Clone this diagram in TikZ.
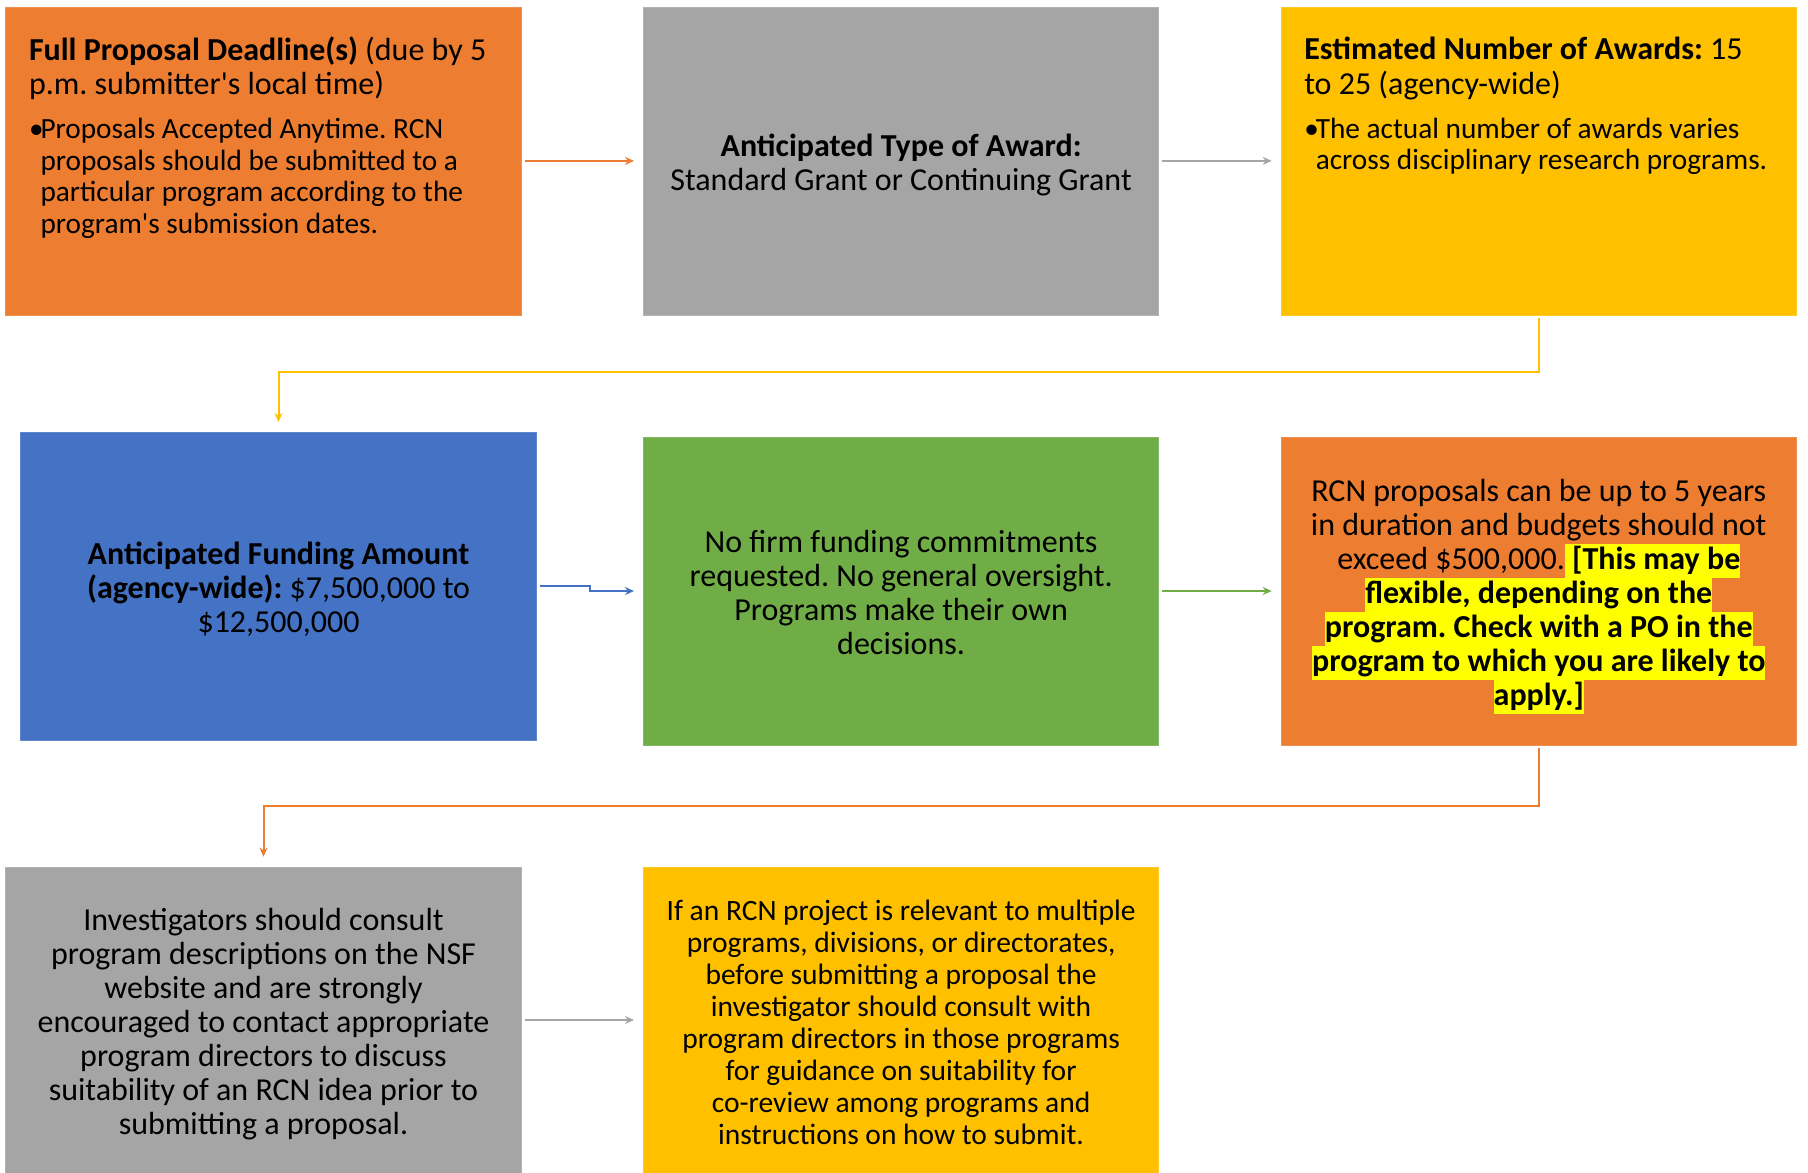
\documentclass[tikz,border=0pt]{standalone}
\usepackage{fontspec}
\setmainfont{Carlito}
\usetikzlibrary{arrows.meta,calc}
\definecolor{cOrange}{HTML}{ED7D31}
\definecolor{cGray}{HTML}{A5A5A5}
\definecolor{cGold}{HTML}{FFC000}
\definecolor{cBlue}{HTML}{4472C4}
\definecolor{cGreen}{HTML}{70AD47}
\definecolor{hlYellow}{HTML}{FFFF00}
\newcommand{\st}{\rule[-8pt]{0pt}{34pt}}
\newcommand{\topst}{\rule{0pt}{33pt}}
\newcommand{\botst}{\rule[-8pt]{0pt}{8pt}}
\newcommand{\stopst}{\rule{0pt}{31.5pt}}
\newcommand{\sbotst}{\rule[-7.5pt]{0pt}{7.5pt}}
\newcommand{\hlt}[1]{{\setlength{\fboxsep}{0pt}\colorbox{hlYellow}{\st#1}}}
\newcommand{\bul}{\makebox[11.5pt][l]{•}}
\frenchspacing
\begin{document}
\frenchspacing
\begin{tikzpicture}[x=1pt,y=-1pt,
  box/.style={minimum width=515.4pt, minimum height=308pt, inner sep=0pt, align=center, text=black, draw=#1!85!white, line width=0.8pt, fill=#1},
  big/.style={font=\fontsize{32}{34}\selectfont},
  small/.style={font=\fontsize{29.5}{32}\selectfont},
  conn/.style={line width=2pt, draw=#1, -{Stealth[length=9pt,width=8pt]}, shorten <=3pt, shorten >=9pt}
]
\useasboundingbox (0,0) rectangle (1808,1173);
\fill[white] (0,0) rectangle (1808,1173);

% Row 1
\node[box=cOrange] (b1) at (263.5,160.9) {\parbox[c][249pt][t]{469pt}{%
  {\fontsize{32}{34.6}\selectfont\textbf{Full Proposal Deadline(s)} (due by 5\\ p.m. submitter\textquotesingle s local time)\par}%
  \vspace{12pt}%
  {\fontsize{29.3}{31.7}\selectfont\noindent\hangindent=11.5pt\hangafter=1 \bul Proposals Accepted Anytime. RCN\\ proposals should be submitted to a\\ particular program according to the\\ program\textquotesingle s submission dates.\par}}};

\node[box=cGray, big] (b2) at (901.1,160.9) {\topst\textbf{Anticipated Type of Award:}\\ \botst Standard Grant or Continuing Grant};

\node[box=cGold] (b3) at (1538.8,160.9) {\parbox[c][247pt][t]{469pt}{%
  {\fontsize{32}{34.6}\selectfont\textbf{Estimated Number of Awards:} 15\\ to 25 (agency-wide)\par}%
  \vspace{12pt}%
  {\fontsize{29.3}{31.7}\selectfont\noindent\hangindent=11.5pt\hangafter=1 \bul The actual number of awards varies\\ across disciplinary research programs.\par}}};

% Row 2
\node[box=cBlue, big] (b4) at (278.5,586.3) {\topst\textbf{Anticipated Funding Amount}\\ \textbf{(agency-wide):} \$7,500,000 to\\ \botst\$12,500,000};

\node[box=cGreen, big] (b5) at (901.1,591) {\topst No firm funding commitments\\ requested. No general oversight.\\ Programs make their own\\ \botst decisions.};

\node[box=cOrange, big] (b6) at (1538.8,591) {\topst RCN proposals can be up to 5 years\\ in duration and budgets should not\\ exceed \$500,000.\hlt{ \textbf{[This may be}}\\ \hlt{\textbf{flexible, depending on the}}\\ \hlt{\textbf{program. Check with a PO in the}}\\ \hlt{\textbf{program to which you are likely to}}\\ \hlt{\textbf{apply.]}}};

% Row 3
\node[box=cGray, big, minimum height=306pt] (b7) at (263.5,1020) {\topst Investigators should consult\\ program descriptions on the NSF\\ website and are strongly\\ encouraged to contact appropriate\\ program directors to discuss\\ suitability of an RCN idea prior to\\ \botst submitting a proposal.};

\node[box=cGold, small, minimum height=306pt] (b8) at (901.1,1020) {\stopst If an RCN project is relevant to multiple\\ programs, divisions, or directorates,\\ before submitting a proposal the\\ investigator should consult with\\ program directors in those programs\\ for guidance on suitability for\\ co-review among programs and\\ \sbotst instructions on how to submit.};

% Connectors
\draw[conn=cOrange] (b1.east) -- (b2.west);
\draw[conn=cGray] (b2.east) -- (b3.west);
\draw[conn=cGold, shorten >=10pt] (b3.south) -- ++(0,57) -| (b4.north);
\coordinate (m45) at ($(b4.east)!0.5!(b5.west)$);
\draw[conn=cBlue] (b4.east) -- (b4.east -| m45) -- (m45 |- b5.west) -- (b5.west);
\draw[conn=cGreen] (b5.east) -- (b6.west);
\draw[conn=cOrange, shorten >=10pt] (b6.south) -- ++(0,61) -| (b7.north);
\draw[conn=cGray] (b7.east) -- (b8.west);
\end{tikzpicture}
\end{document}
